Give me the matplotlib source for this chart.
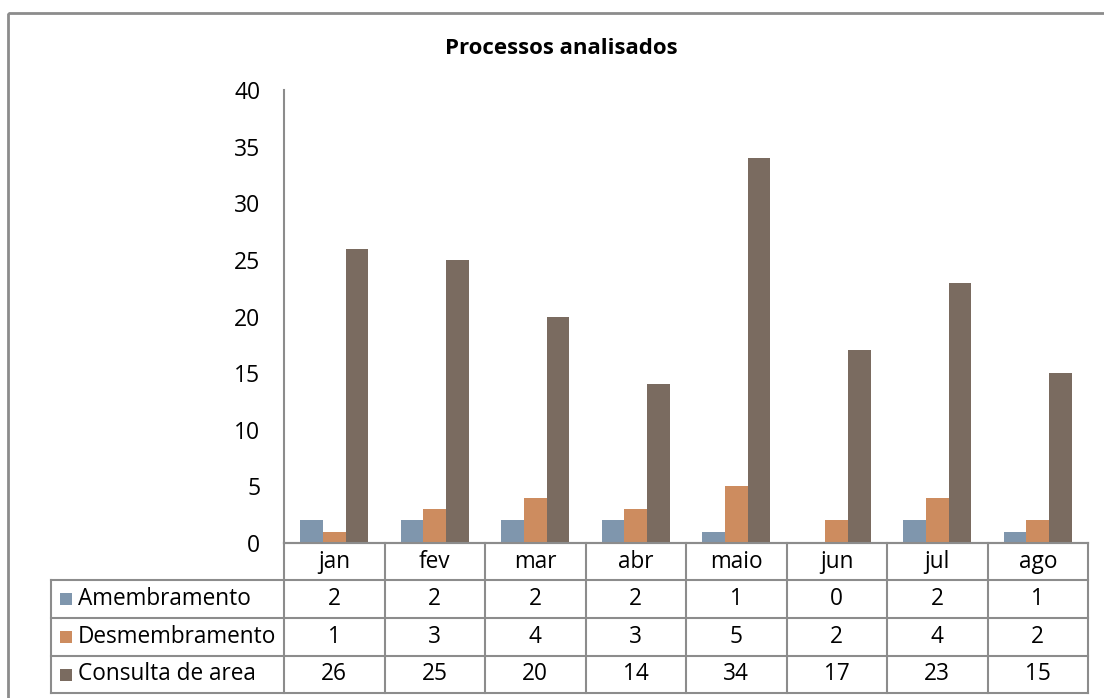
import matplotlib
matplotlib.use("Agg")
import matplotlib.pyplot as plt
import numpy as np
from matplotlib.patches import Rectangle

months = ["jan", "fev", "mar", "abr", "maio", "jun", "jul", "ago"]
series_names = ["Amembramento", "Desmembramento", "Consulta de area"]
amembramento = [2, 2, 2, 2, 1, 0, 2, 1]
desmembramento = [1, 3, 4, 3, 5, 2, 4, 2]
consulta = [26, 25, 20, 14, 34, 17, 23, 15]
yticks = [0, 5, 10, 15, 20, 25, 30, 35, 40]
title = "Processos analisados"

colors = ["#7F96AD", "#CD8C5F", "#7A6B60"]
grid_c = "#8C8C8C"
FONT = "Open Sans"
plt.rcParams["font.family"] = [FONT, "DejaVu Sans"]

W, H = 1104, 698
fig = plt.figure(figsize=(W / 100, H / 100), dpi=100)

# overlay in pixel coordinates for frame and table
ov = fig.add_axes([0, 0, 1, 1])
ov.set_xlim(0, W)
ov.set_ylim(H, 0)
ov.axis("off")
ov.add_patch(Rectangle((8, 13), 1200, 800, fill=False, ec="#8C8C8C", lw=2))

# plot area
x0, x1, ytop, ybot = 284, 1088, 90, 543
ax = fig.add_axes([x0 / W, 1 - ybot / H, (x1 - x0) / W, (ybot - ytop) / H])
ax.set_zorder(2)
ax.patch.set_alpha(0)
n = len(months)
x = np.arange(n)
bw = 0.224
all_series = [amembramento, desmembramento, consulta]
for i, (vals, c) in enumerate(zip(all_series, colors)):
    ax.bar(x + (i - 1) * bw, vals, width=bw, color=c, edgecolor="none")
ax.set_xlim(-0.5, n - 0.5)
ax.set_ylim(0, 40)
ax.set_yticks(yticks)
ax.set_yticklabels([str(t) for t in yticks], fontsize=16.5)
ax.tick_params(axis="y", length=0, pad=17)
ax.set_xticks([])
for s in ["top", "right"]:
    ax.spines[s].set_visible(False)
ax.spines["left"].set_color(grid_c)
ax.spines["left"].set_linewidth(1.5)
ax.spines["bottom"].set_color(grid_c)
ax.spines["bottom"].set_linewidth(1.5)

fig.text(561 / W, 1 - 48 / H, title, ha="center", va="center",
         fontsize=16, fontweight="bold")

# data table
tl = 51
rows_y = [543, 580, 618, 656, 693]
colw = (x1 - x0) / n
lw = 1.5
ov.plot([x0, x1], [rows_y[0]] * 2, color=grid_c, lw=lw)
for yy in rows_y[1:]:
    ov.plot([tl, x1], [yy] * 2, color=grid_c, lw=lw)
ov.plot([tl, tl], [rows_y[1], rows_y[-1]], color=grid_c, lw=lw)
for j in range(n + 1):
    xx = x0 + j * colw
    ov.plot([xx, xx], [rows_y[0], rows_y[-1]], color=grid_c, lw=lw)

fs = 16.3
for j, m in enumerate(months):
    ov.text(x0 + (j + 0.5) * colw, (rows_y[0] + rows_y[1]) / 2, m,
            ha="center", va="center", fontsize=fs)
for r, (name, vals, c) in enumerate(zip(series_names, all_series, colors)):
    yc = (rows_y[r + 1] + rows_y[r + 2]) / 2
    ov.add_patch(Rectangle((60, yc - 6), 12, 12, color=c, lw=0))
    ov.text(78, yc, name, ha="left", va="center", fontsize=fs)
    for j, v in enumerate(vals):
        ov.text(x0 + (j + 0.5) * colw, yc, str(v), ha="center", va="center",
                fontsize=fs)

fig.savefig("out.png", dpi=100)
